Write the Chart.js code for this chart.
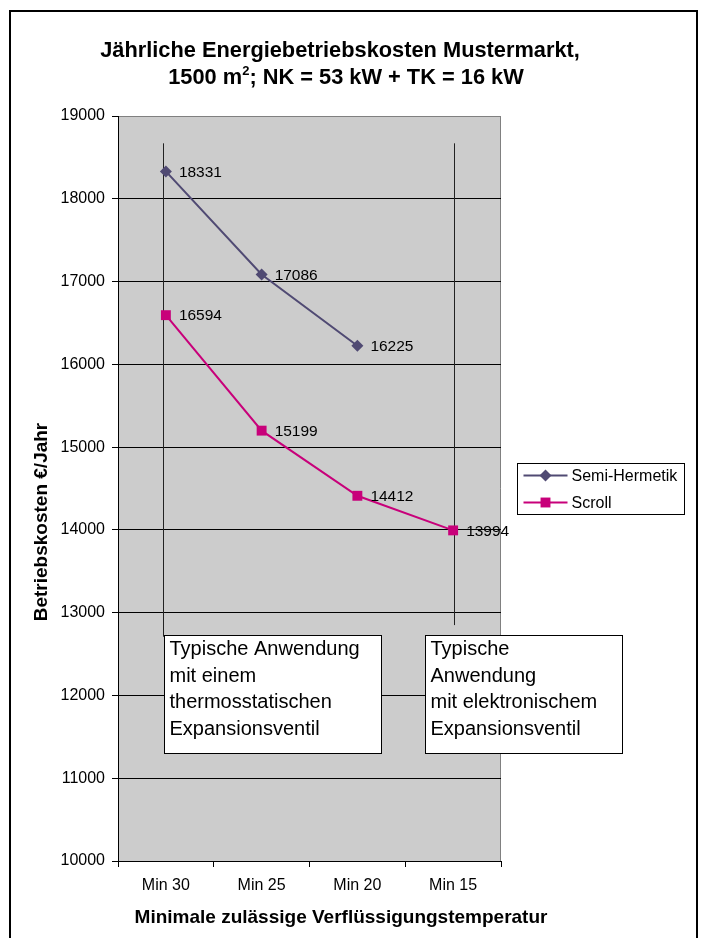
<!DOCTYPE html>
<html>
<head>
<meta charset="utf-8">
<script src="https://cdn.jsdelivr.net/npm/chart.js@4.4.1/dist/chart.umd.min.js"></script>
<style>
    html, body { margin: 0; padding: 0; background: #fff; }
    #wrap { width: 704px; height: 938px; }
</style>
</head>
<body>
<div id="wrap"><canvas id="energyChart" width="704" height="938"></canvas></div>
<script>
const categories = ['Min 30', 'Min 25', 'Min 20', 'Min 15'];
const semiHermetik = [18331, 17086, 16225, null];
const scroll = [16594, 15199, 14412, 13994];
const yMin = 10000;
const yMax = 19000;
const yStep = 1000;

// vertical marker lines: category, top value, bottom value
const markerCategories = ['Min 30', 'Min 15'];
const markerTops = [18670, 18670];
const markerBottoms = [12710, 12850];

const noteLeft = ['Typische Anwendung', 'mit einem', 'thermosstatischen', 'Expansionsventil'];
const noteRight = ['Typische', 'Anwendung', 'mit elektronischem', 'Expansionsventil'];

const FONT = '"Liberation Sans", Arial, sans-serif';
const SEMI_COLOR = '#504a73';
const SCROLL_COLOR = '#c8007a';
const PLOT_BG = '#cccccc';

const decor = {
    id: 'decor',
    beforeDraw(chart) {
        const { ctx, chartArea: a } = chart;
        ctx.save();
        ctx.fillStyle = '#fff';
        ctx.fillRect(0, 0, chart.width, chart.height);
        ctx.fillStyle = PLOT_BG;
        ctx.fillRect(a.left, a.top, a.right - a.left, a.bottom - a.top);
        ctx.strokeStyle = '#808080';
        ctx.lineWidth = 1;
        ctx.beginPath();
        ctx.moveTo(a.right - 0.5, a.top);
        ctx.lineTo(a.right - 0.5, a.bottom);
        ctx.stroke();
        ctx.restore();
    },
    beforeDatasetsDraw(chart) {
        const { ctx } = chart;
        const x = chart.scales.x;
        const y = chart.scales.y;
        // the hand-drawn lines sit a little off the category centre
        const nudge = [-2.5, 1.5];
        ctx.save();
        ctx.strokeStyle = '#222';
        ctx.lineWidth = 1;
        markerCategories.forEach((cat, i) => {
            const px = Math.round(x.getPixelForValue(categories.indexOf(cat))) + nudge[i];
            ctx.beginPath();
            ctx.moveTo(px, y.getPixelForValue(markerTops[i]));
            ctx.lineTo(px, y.getPixelForValue(markerBottoms[i]));
            ctx.stroke();
        });
        ctx.restore();
    },
    afterDatasetsDraw(chart) {
        const { ctx } = chart;
        const x = chart.scales.x;
        const y = chart.scales.y;
        ctx.save();
        // data labels
        ctx.fillStyle = '#000';
        ctx.font = `15.5px ${FONT}`;
        ctx.textAlign = 'left';
        ctx.textBaseline = 'middle';
        chart.data.datasets.forEach((ds, di) => {
            const meta = chart.getDatasetMeta(di);
            meta.data.forEach((pt, i) => {
                if (ds.data[i] == null) return;
                ctx.fillText(String(ds.data[i]), pt.x + 13, pt.y + 1);
            });
        });

        // note boxes
        const top = Math.round(y.getPixelForValue(12730)) + 0.5;
        const bottom = Math.round(y.getPixelForValue(11300)) + 0.5;
        const boxes = [
            { left: x.getPixelForValue(0) - 2, right: x.getPixelForValue(0) + 215, lines: noteLeft },
            { left: x.getPixelForValue(3) - 28, right: x.getPixelForValue(3) + 169, lines: noteRight }
        ];
        boxes.forEach((b) => {
            const l = Math.round(b.left) + 0.5;
            const r = Math.round(b.right) + 0.5;
            ctx.fillStyle = '#fff';
            ctx.fillRect(l, top, r - l, bottom - top);
            ctx.strokeStyle = '#000';
            ctx.lineWidth = 1;
            ctx.strokeRect(l, top, r - l, bottom - top);
            ctx.fillStyle = '#000';
            ctx.font = `20px ${FONT}`;
            ctx.textBaseline = 'middle';
            b.lines.forEach((t, i) => {
                ctx.fillText(t, l + 5, top + 14 + i * 26.7);
            });
        });
        ctx.restore();
    },
    afterDraw(chart) {
        const { ctx, chartArea: a } = chart;
        ctx.save();
        // outer frame (bottom edge is outside the picture)
        ctx.strokeStyle = '#000';
        ctx.lineWidth = 2;
        ctx.beginPath();
        ctx.moveTo(10, chart.height + 5);
        ctx.lineTo(10, 11);
        ctx.lineTo(697, 11);
        ctx.lineTo(697, chart.height + 5);
        ctx.stroke();

        // title
        const cx = 342;
        ctx.fillStyle = '#000';
        ctx.textBaseline = 'alphabetic';
        ctx.textAlign = 'center';
        ctx.font = `bold 21.8px ${FONT}`;
        ctx.fillText('Jährliche Energiebetriebskosten Mustermarkt,', cx - 2, 57);
        const p1 = '1500 m';
        const sup = '2';
        const p2 = '; NK = 53 kW + TK = 16 kW';
        const w1 = ctx.measureText(p1).width;
        const w2 = ctx.measureText(p2).width;
        ctx.font = `bold 13px ${FONT}`;
        const ws = ctx.measureText(sup).width;
        const start = cx + 4 - (w1 + ws + w2) / 2;
        ctx.textAlign = 'left';
        ctx.font = `bold 21.8px ${FONT}`;
        ctx.fillText(p1, start, 84);
        ctx.fillText(p2, start + w1 + ws, 84);
        ctx.font = `bold 13px ${FONT}`;
        ctx.fillText(sup, start + w1, 75);

        // axis titles
        ctx.font = `bold 19px ${FONT}`;
        ctx.textAlign = 'center';
        ctx.textBaseline = 'middle';
        ctx.fillText('Minimale zulässige Verflüssigungstemperatur', 341, 918);
        ctx.save();
        ctx.translate(42, 522);
        ctx.rotate(-Math.PI / 2);
        ctx.fillText('Betriebskosten €/Jahr', 0, 0);
        ctx.restore();

        // legend
        const lx = a.right + 16.5;
        const ly = 463.5;
        const lw = 167;
        const lh = 51;
        ctx.fillStyle = '#fff';
        ctx.fillRect(lx, ly, lw, lh);
        ctx.strokeStyle = '#000';
        ctx.lineWidth = 1;
        ctx.strokeRect(lx, ly, lw, lh);
        ctx.font = `16px ${FONT}`;
        ctx.textAlign = 'left';
        ctx.textBaseline = 'middle';
        chart.data.datasets.forEach((ds, i) => {
            const ry = ly + 12 + i * 27;
            ctx.strokeStyle = ds.borderColor;
            ctx.lineWidth = 2;
            ctx.beginPath();
            ctx.moveTo(lx + 6, ry);
            ctx.lineTo(lx + 50, ry);
            ctx.stroke();
            ctx.fillStyle = ds.backgroundColor;
            Chart.helpers.drawPoint(ctx, { pointStyle: ds.pointStyle, radius: ds.pointRadius, rotation: 0, borderWidth: 0 }, lx + 28, ry);
            ctx.fillStyle = '#000';
            ctx.fillText(ds.label, lx + 54, ry + 1);
        });
        ctx.restore();
    }
};

const canvas = document.getElementById('energyChart');
new Chart(canvas, {
    type: 'line',
    data: {
        labels: categories,
        datasets: [
            {
                label: 'Semi-Hermetik',
                data: semiHermetik,
                borderColor: SEMI_COLOR,
                backgroundColor: SEMI_COLOR,
                borderWidth: 2,
                pointStyle: 'rectRot',
                pointRadius: 6,
                pointBorderWidth: 0,
                tension: 0
            },
            {
                label: 'Scroll',
                data: scroll,
                borderColor: SCROLL_COLOR,
                backgroundColor: SCROLL_COLOR,
                borderWidth: 2,
                pointStyle: 'rect',
                pointRadius: 7,
                pointBorderWidth: 0,
                tension: 0
            }
        ]
    },
    options: {
        responsive: false,
        animation: false,
        events: [],
        layout: { padding: { left: 0, top: 116, right: 203, bottom: 0 } },
        plugins: {
            legend: { display: false },
            title: { display: false },
            tooltip: { enabled: false }
        },
        scales: {
            x: {
                offset: true,
                grid: { offset: true, drawOnChartArea: false, color: '#000', tickLength: 6 },
                border: { color: '#000', width: 1 },
                ticks: { font: { family: FONT, size: 16 }, color: '#000', padding: 9 },
                afterFit: (s) => { s.height = 77; }
            },
            y: {
                min: yMin,
                max: yMax,
                ticks: {
                    stepSize: yStep,
                    font: { family: FONT, size: 16 },
                    color: '#000',
                    padding: 7,
                    callback: (value) => String(value)
                },
                grid: {
                    color: (c) => (c.tick && c.tick.value === yMax ? '#808080' : '#000'),
                    tickColor: '#000',
                    tickLength: 6
                },
                border: { color: '#000', width: 1 },
                afterFit: (s) => { s.width = 118; }
            }
        }
    },
    plugins: [decor]
});
</script>
</body>
</html>
